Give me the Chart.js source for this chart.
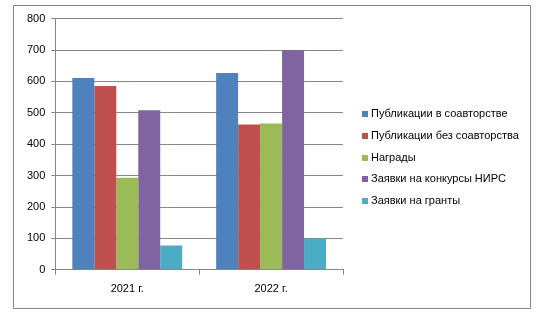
<!DOCTYPE html>
<html>
<head>
<meta charset="utf-8">
<script src="https://cdn.jsdelivr.net/npm/chart.js@4"></script>
<style>
  body { margin: 0; background: #fff; font-family: 'Liberation Sans', Arial, sans-serif; }
  #box { position: absolute; left: 13px; top: 5px; width: 516px; height: 302px; border: 1px solid #868686; }
  canvas { display: block; }
  #legend { position: absolute; left: 348px; top: 97px; font-size: 11px; color: #000; }
  #legend div { height: 21.75px; line-height: 21.75px; white-space: nowrap; }
  #legend span { display: inline-block; width: 6px; height: 6px; margin-right: 3px; vertical-align: 0px; }
</style>
</head>
<body>
<div id="box"><canvas id="chart" width="516" height="302"></canvas><div id="legend"></div></div>
<script>
let years = ['2021 г.', '2022 г.']
let seriesNames = ['Публикации в соавторстве', 'Публикации без соавторства', 'Награды', 'Заявки на конкурсы НИРС', 'Заявки на гранты']
let coauthored = [611, 627]
let solo = [585, 463]
let awards = [293, 466]
let nirs = [508, 700]
let grants = [77, 100]
let colors = ['#4f81bd', '#c0504d', '#9bbb59', '#8064a2', '#4bacc6']
let yTicks = [0, 100, 200, 300, 400, 500, 600, 700, 800]

let values = [coauthored, solo, awards, nirs, grants]

let ctx = document.querySelector('#chart').getContext('2d')
Chart.defaults.font.family = 'Liberation Sans, Arial, sans-serif'
Chart.defaults.color = '#000'

let chart = new Chart(ctx, {
  type: 'bar',
  data: {
    labels: years,
    datasets: seriesNames.map((name, i) => ({
      label: name,
      data: values[i],
      backgroundColor: colors[i],
      barPercentage: 1,
      categoryPercentage: 0.764
    }))
  },
  options: {
    responsive: false,
    animation: false,
    layout: { padding: { left: 7, top: 12, right: 187, bottom: 4 } },
    plugins: {
      legend: { display: false },
      tooltip: { enabled: false }
    },
    scales: {
      x: {
        grid: { drawOnChartArea: false, drawTicks: true, tickLength: 5, color: '#868686', offset: true },
        border: { color: '#868686' },
        ticks: { font: { size: 11 }, padding: 8 }
      },
      y: {
        min: 0,
        max: 800,
        afterBuildTicks: axis => { axis.ticks = yTicks.map(v => ({ value: v })) },
        grid: { color: '#868686', tickLength: 4 },
        border: { color: '#868686' },
        ticks: { font: { size: 11 }, padding: 6 }
      }
    }
  }
})

// legend built from the same series names and colours
let legend = document.querySelector('#legend')
seriesNames.forEach((name, i) => {
  let row = document.createElement('div')
  let sw = document.createElement('span')
  sw.style.background = colors[i]
  row.appendChild(sw)
  row.appendChild(document.createTextNode(name))
  legend.appendChild(row)
})
</script>
</body>
</html>
